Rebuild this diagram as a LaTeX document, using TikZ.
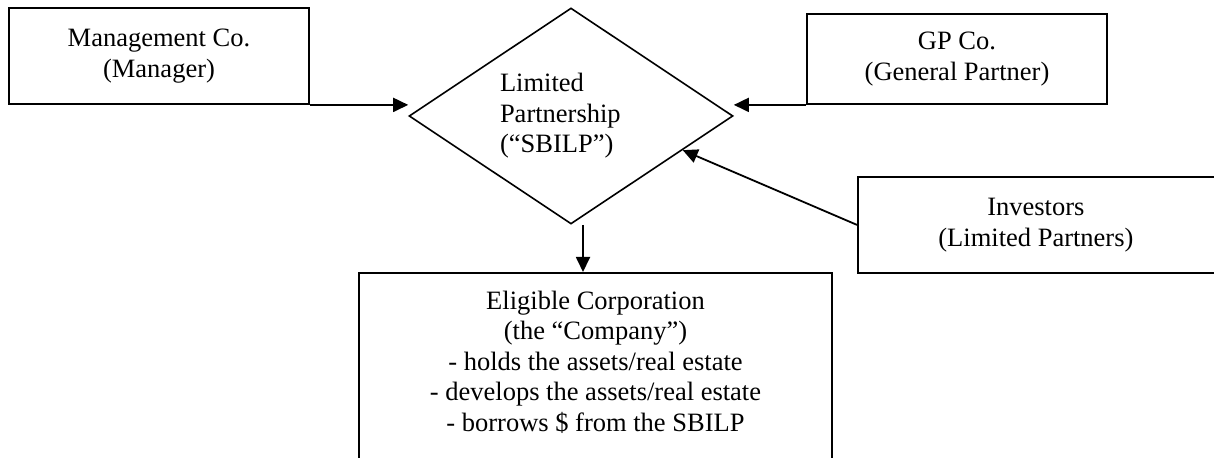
\documentclass[tikz,border=0pt]{standalone}
\usepackage{fontspec}
\setmainfont{Liberation Serif}
\usetikzlibrary{shapes.geometric,arrows.meta}

\begin{document}
\begin{tikzpicture}[x=0.5pt, y=-0.5pt,
	font=\fontsize{13.25pt}{15.25pt}\selectfont,
	box/.style = {draw, line width=0.9pt, align=center, inner sep=0pt},
	hub/.style = {draw, diamond, aspect=1.5, line width=0.8pt, minimum width=162pt, minimum height=108pt, inner sep=0pt, text width=71pt, align=left},
	link/.style = {line width=0.9pt, -{Triangle[length=7.5pt,width=7pt]}}]
	\path[use as bounding box, clip] (0,0) rectangle (1214,458);
	\node[hub] (lp) at (571,116) {Limited\\Partnership\\(“SBILP”)};
	\node[box, minimum width=150pt, minimum height=48pt] (mgmt) at (159,56) {Management Co.\\(Manager)};
	\node[box, minimum width=150pt, minimum height=45pt] (gp) at (957,59) {GP Co.\\(General Partner)};
	\node[box, anchor=north west, minimum width=220pt, minimum height=48pt, label={[align=center, xshift=-21pt]center:Investors\\(Limited Partners)}] (inv) at (857,176) {};
	\node[box, anchor=north, minimum width=236.5pt, inner ysep=9pt, text depth=30pt] (elig) at (595.5,272) {Eligible Corporation\\(the “Company”)\\- holds the assets/real estate\\- develops the assets/real estate\\- borrows \$ from the SBILP};
	\draw[link] (mgmt.south east) -- (mgmt.south east -| lp.west);
	\draw[link] (gp.south west) -- (gp.south west -| lp.east);
	\draw[link] (inv.west) -- (lp.-17);
	\draw[link] ([xshift=6pt]lp.south) -- ([xshift=6pt]lp.south |- elig.north);
\end{tikzpicture}
\end{document}
